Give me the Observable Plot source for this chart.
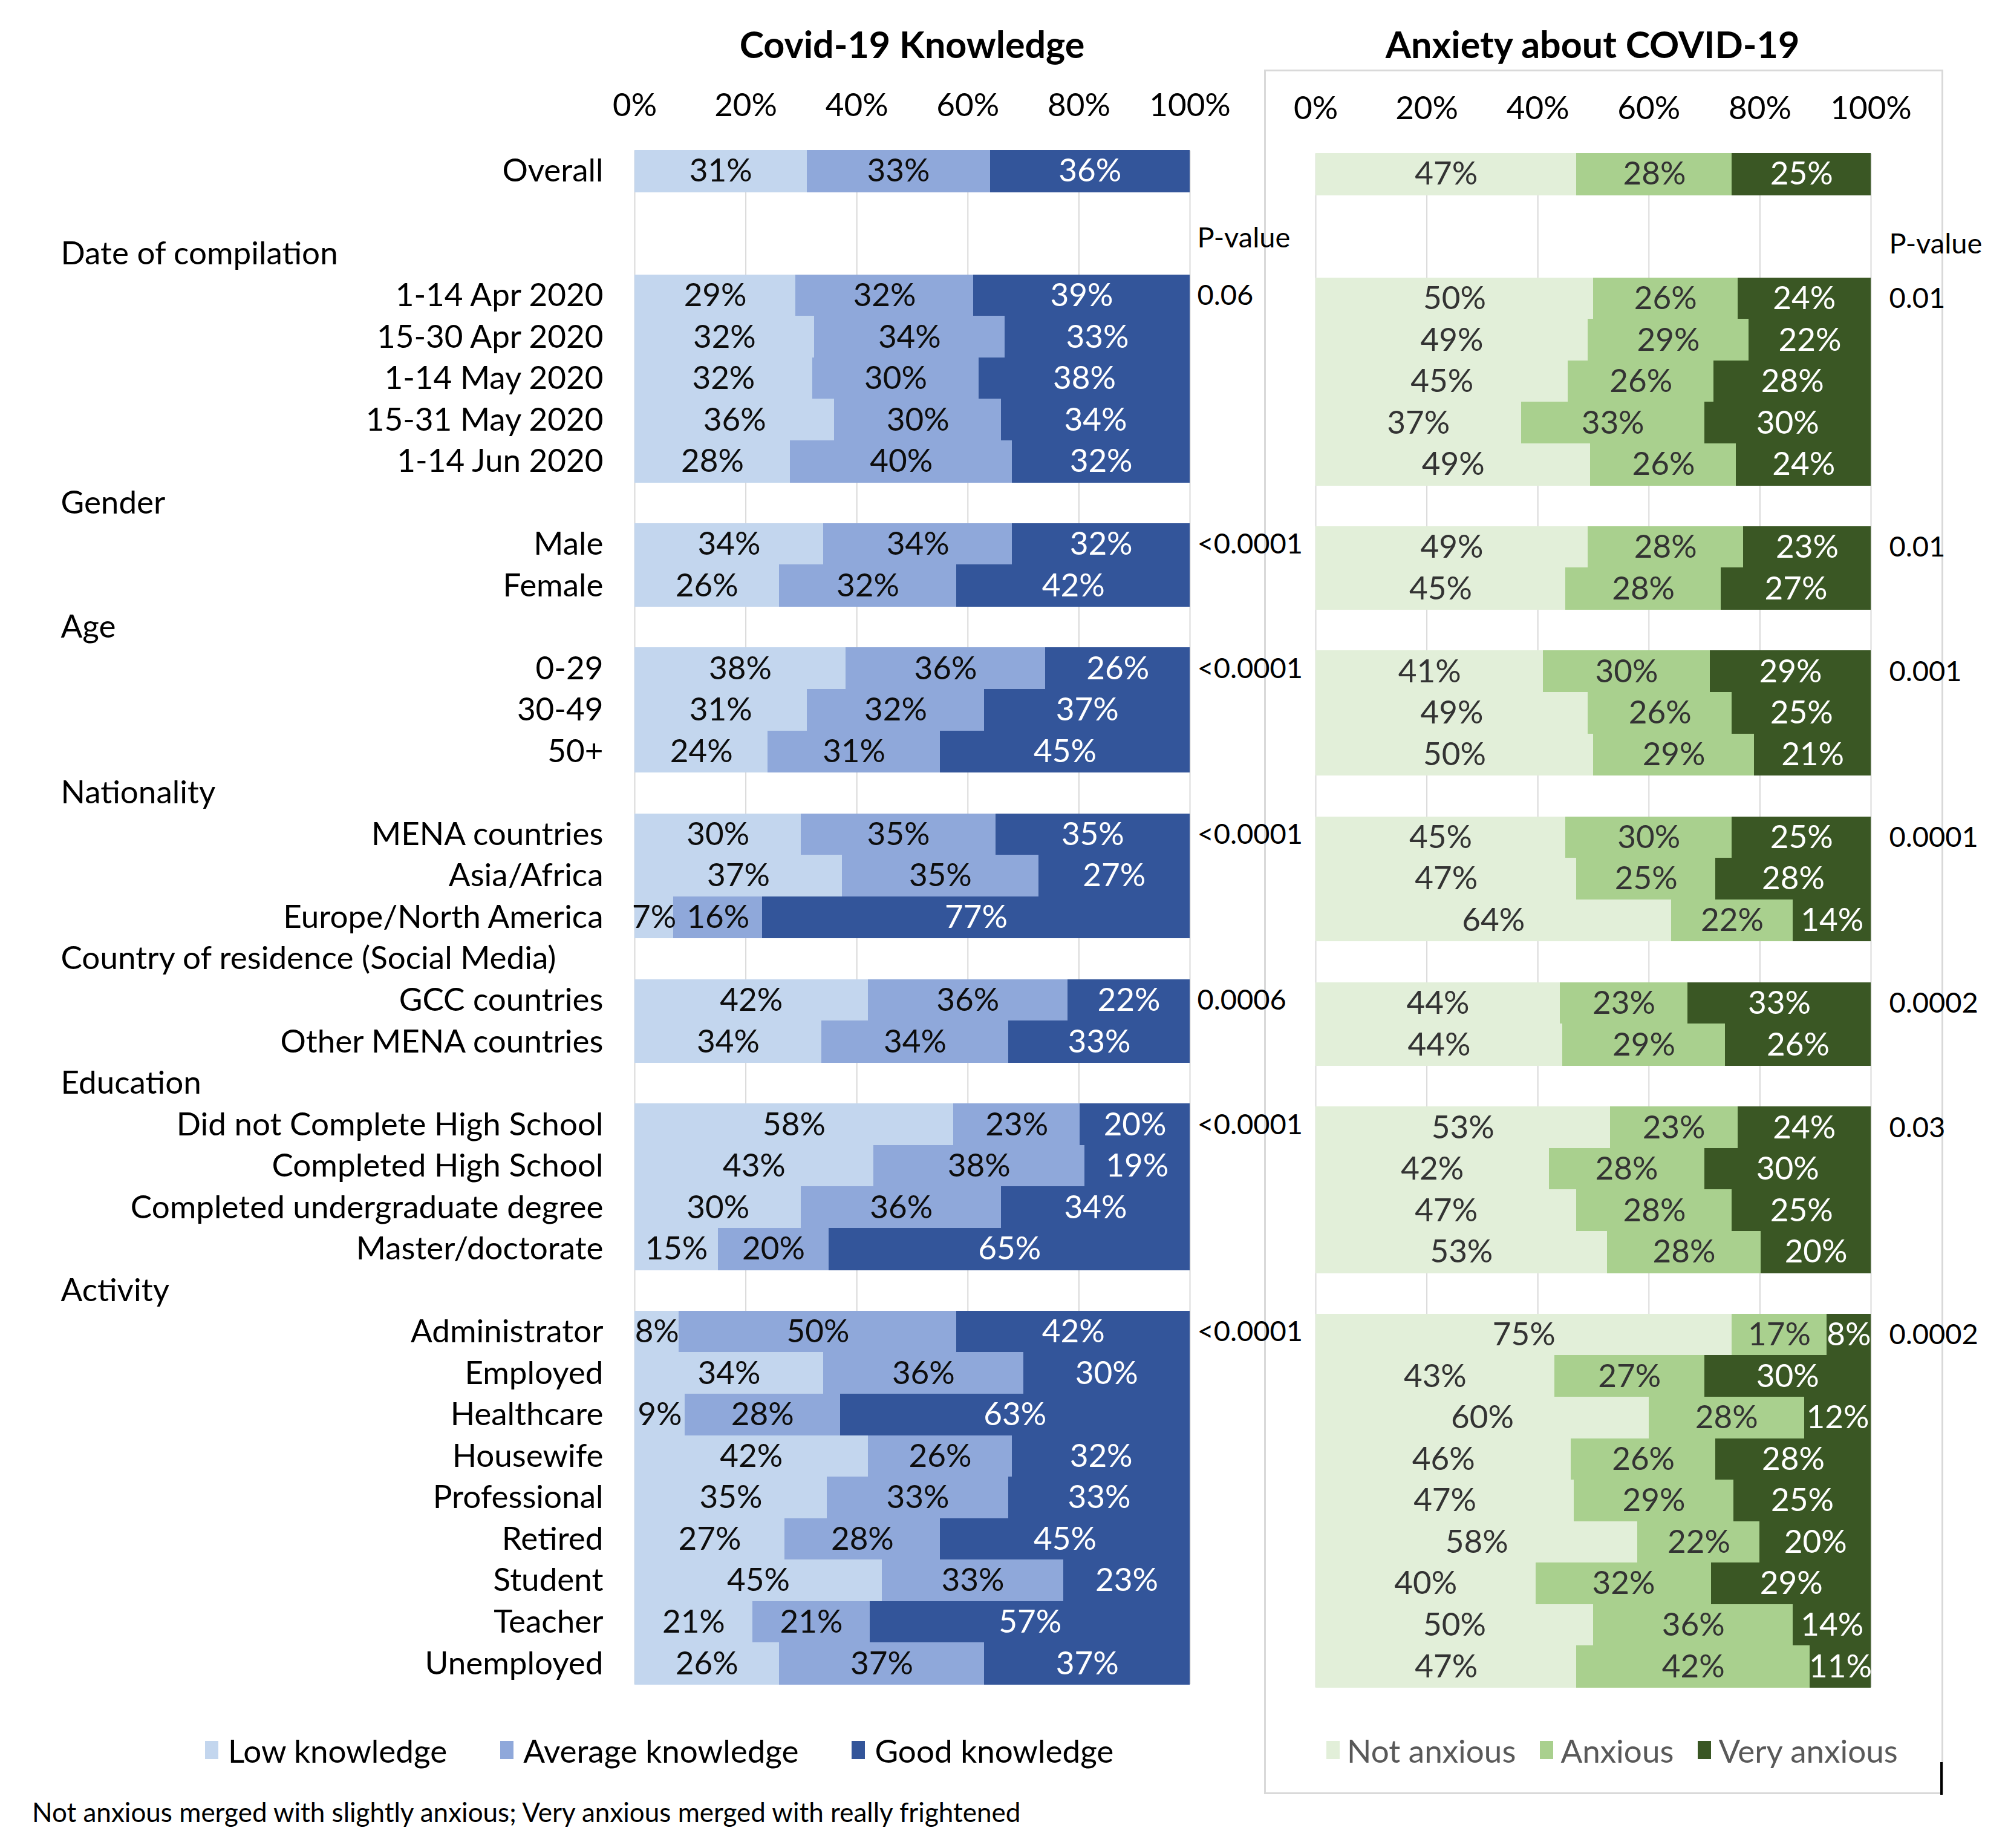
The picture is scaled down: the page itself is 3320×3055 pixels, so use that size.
<!DOCTYPE html>
<html>
<head>
<meta charset="utf-8">
<script src="https://cdn.jsdelivr.net/npm/d3@7"></script>
<script src="https://cdn.jsdelivr.net/npm/@observablehq/plot@0.6"></script>
<style>
  body { margin: 0; background: #fff; }
  #page { position: relative; width: 3320px; height: 3055px; background: #fff; overflow: hidden;
          font-family: Lato, "Open Sans", sans-serif; color: #000; }
  .abs { position: absolute; }
  .title { font-weight: 700; font-size: 61px; line-height: 1; white-space: nowrap; transform: translate(-50%, -50%); }
  #box { left: 2090px; top: 115px; width: 1117px; height: 2845px; border: 3px solid #d9d9d9; box-sizing: content-box; }
  #mark { left: 3208px; top: 2913px; width: 4px; height: 54px; background: #000; }
  #foot { left: 53px; top: 2995px; font-size: 44px; line-height: 1; transform: translateY(-50%); white-space: nowrap; }
  .leg { line-height: 1; height: 60px; }
  .kleg-swatch { margin-right: 88px !important; }
  .kleg-swatch > svg { margin-right: 16px !important; }
  .aleg-swatch { margin-right: 40px !important; }
  .aleg-swatch > svg { margin-right: 12px !important; }
</style>
</head>
<body>
<div id="page">
  <div id="box" class="abs"></div>
  <div id="mark" class="abs"></div>
  <div class="abs title" style="left:1508px; top:72px;">Covid-19 Knowledge</div>
  <div class="abs title" style="left:2633px; top:72px;">Anxiety about COVID-19</div>
  <div id="foot" class="abs"></div>
</div>
<script>
// ---------------- data ----------------
const categories = [
  "Overall",
  "1-14 Apr 2020", "15-30 Apr 2020", "1-14 May 2020", "15-31 May 2020", "1-14 Jun 2020",
  "Male", "Female",
  "0-29", "30-49", "50+",
  "MENA countries", "Asia/Africa", "Europe/North America",
  "GCC countries", "Other MENA countries",
  "Did not Complete High School", "Completed High School", "Completed undergraduate degree", "Master/doctorate",
  "Administrator", "Employed", "Healthcare", "Housewife", "Professional", "Retired", "Student", "Teacher", "Unemployed"
];
const groupHeaders = ["Date of compilation", "Gender", "Age", "Nationality",
  "Country of residence (Social Media)", "Education", "Activity"];
const groupSizes = [5, 2, 3, 3, 2, 4, 9];

const knowledgeLevels = ["Low knowledge", "Average knowledge", "Good knowledge"];
const knowledgeColors = ["#c3d6ee", "#8fa8da", "#33559a"];
const lowKnowledge     = [31, 29,32,32,36,28, 34,26, 38,31,24, 30,37,7, 42,34, 58,43,30,15, 8,34,9,42,35,27,45,21,26];
const averageKnowledge = [33, 32,34,30,30,40, 34,32, 36,32,31, 35,35,16, 36,34, 23,38,36,20, 50,36,28,26,33,28,33,21,37];
const goodKnowledge    = [36, 39,33,38,34,32, 32,42, 26,37,45, 35,27,77, 22,33, 20,19,34,65, 42,30,63,32,33,45,23,57,37];

const anxietyLevels = ["Not anxious", "Anxious", "Very anxious"];
const anxietyColors = ["#e2efd9", "#a9d08e", "#3a5724"];
const notAnxious  = [47, 50,49,45,37,49, 49,45, 41,49,50, 45,47,64, 44,44, 53,42,47,53, 75,43,60,46,47,58,40,50,47];
const anxious     = [28, 26,29,26,33,26, 28,28, 30,26,29, 30,25,22, 23,29, 23,28,28,28, 17,27,28,26,29,22,32,36,42];
const veryAnxious = [25, 24,22,28,30,24, 23,27, 29,25,21, 25,28,14, 33,26, 24,30,25,20, 8,30,12,28,25,20,29,14,11];

const pKnowledge = ["0.06", "<0.0001", "<0.0001", "<0.0001", "0.0006", "<0.0001", "<0.0001"];
const pAnxiety   = ["0.01", "0.01", "0.001", "0.0001", "0.0002", "0.03", "0.0002"];
const pHeader = "P-value";
const xTicks = [0, 0.2, 0.4, 0.6, 0.8, 1];
const footnote = "Not anxious merged with slightly anxious; Very anxious merged with really frightened";

// ---------------- row layout (bands) ----------------
const rowKeys = ["Overall", "__blank__"];
const firstRows = [];
{
  let k = 1;
  groupHeaders.forEach((h, g) => {
    rowKeys.push(h);
    firstRows.push(categories[k]);
    for (let i = 0; i < groupSizes[g]; i++) rowKeys.push(categories[k++]);
  });
}

const FRAME_TOP = 148.7;
const BAND = 68.53;
const FRAME_H = BAND * rowKeys.length;
const H = FRAME_TOP + FRAME_H + 10;

function panel({levels, colors, series, pvalues, darkText, pdx, pHeaderDy, marginLeft, width, showY}) {
  const data = categories.flatMap((c, i) => levels.map((l, j) => ({row: c, level: l, value: series[j][i]})));
  const pRows = firstRows.map((r, i) => ({row: r, p: pvalues[i]}));
  const stackOpts = {x: "value", y: "row", z: "level", order: levels, offset: "normalize"};
  const marks = [
    Plot.ruleX(xTicks, {stroke: "#d9d9d9", strokeWidth: 2}),
    Plot.barX(data, Plot.stackX({...stackOpts, fill: "level", insetTop: -0.6, insetBottom: -0.6, shapeRendering: "crispEdges"})),
    Plot.text(data, Plot.stackX({...stackOpts, text: d => d.level === levels[2] ? null : d.value + "%", fill: darkText})),
    Plot.text(data, Plot.stackX({...stackOpts, text: d => d.level === levels[2] ? d.value + "%" : null, fill: "white"})),
    Plot.text(pRows, {y: "row", text: "p", frameAnchor: "right", textAnchor: "start", dx: pdx, fill: "#000", fontSize: 47}),
    Plot.text([pHeader], {y: () => groupHeaders[0], text: d => d, frameAnchor: "right", textAnchor: "start", dx: pdx, dy: pHeaderDy, fill: "#000", fontSize: 47})
  ];
  if (showY) {
    marks.push(Plot.text(groupHeaders, {y: d => d, text: d => d, frameAnchor: "left", textAnchor: "start", dx: 100 - marginLeft, fill: "#000"}));
  }
  return Plot.plot({
    width, height: H,
    marginLeft, marginRight: width - marginLeft - 918, marginTop: FRAME_TOP, marginBottom: 10,
    style: {fontFamily: "Lato, 'Open Sans', sans-serif", fontSize: "53px", color: "#000", background: "transparent", overflow: "visible"},
    x: {domain: [0, 1], axis: "top", ticks: xTicks, tickFormat: d => Math.round(d * 100) + "%", tickSize: 0, tickPadding: 57, label: null},
    y: {domain: rowKeys, padding: 0, round: false, axis: showY ? "left" : null, tickSize: 0, tickPadding: 52,
        tickFormat: k => categories.includes(k) ? k : "", label: null},
    color: {domain: levels, range: colors},
    marks
  });
}

const page = document.getElementById("page");

const left = panel({
  levels: knowledgeLevels, colors: knowledgeColors,
  series: [lowKnowledge, averageKnowledge, goodKnowledge],
  pvalues: pKnowledge, darkText: "#0d0d0d", pdx: 12, pHeaderDy: -27,
  marginLeft: 1049, width: 2100, showY: true
});
left.style.position = "absolute"; left.style.left = "0px"; left.style.top = "100px";
page.appendChild(left);

const right = panel({
  levels: anxietyLevels, colors: anxietyColors,
  series: [notAnxious, anxious, veryAnxious],
  pvalues: pAnxiety, darkText: "#333333", pdx: 30, pHeaderDy: -22,
  marginLeft: 20, width: 1166, showY: false
});
right.style.position = "absolute"; right.style.left = "2155px"; right.style.top = "105px";
page.appendChild(right);

function legend(levels, colors, cls, color, leftPx) {
  const l = Plot.legend({
    color: {domain: levels, range: colors},
    legend: "swatches", swatchWidth: 22, swatchHeight: 30, className: cls,
    style: {fontFamily: "Lato, 'Open Sans', sans-serif", fontSize: "53px", color}
  });
  l.classList.add("leg");
  l.style.position = "absolute"; l.style.left = leftPx + "px"; l.style.top = "2863px"; l.style.margin = "0";
  page.appendChild(l);
}
legend(knowledgeLevels, knowledgeColors, "kleg", "#000", 339);
legend(anxietyLevels, anxietyColors, "aleg", "#595959", 2193);

document.getElementById("foot").textContent = footnote;
</script>
</body>
</html>
